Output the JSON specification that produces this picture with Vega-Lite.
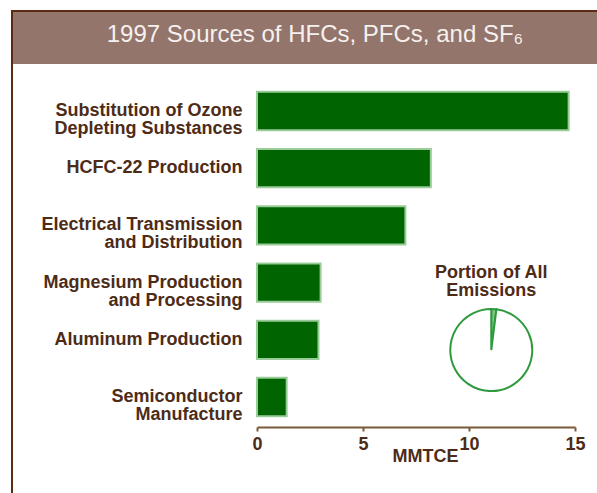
{
  "$schema": "https://vega.github.io/schema/vega-lite/v6.json",
  "padding": {"left": 11, "top": 10, "right": 0, "bottom": 0},
  "background": "white",
  "config": {
    "view": {"stroke": null},
    "font": "Liberation Sans"
  },
  "spacing": 0,
  "vconcat": [
    {
      "spacing": 0,
      "hconcat": [
        {
          "width": 2,
          "height": 54,
          "view": {"fill": "#5a2a12", "stroke": null},
          "data": {"values": [{"part": "frame"}]},
          "mark": {"type": "rect", "color": "#5a2a12"},
          "encoding": {}
        },
        {
          "spacing": 0,
          "vconcat": [
            {
              "width": 584,
              "height": 2,
              "view": {"fill": "#5a2a12", "stroke": null},
              "data": {"values": [{"part": "frame"}]},
              "mark": {"type": "rect", "color": "#5a2a12"},
              "encoding": {}
            },
            {
              "width": 584,
              "height": 52,
              "view": {"fill": "#93756b", "stroke": null},
              "data": {"values": [{"title": "1997 Sources of HFCs, PFCs, and SF₆"}]},
              "mark": {"type": "text", "fontSize": 24, "color": "#f6f1ee", "baseline": "middle", "align": "center", "dx": 10, "dy": -3},
              "encoding": {"text": {"field": "title"}}
            }
          ]
        }
      ]
    },
    {
      "spacing": 0,
      "hconcat": [
        {
          "width": 2,
          "height": 429,
          "view": {"fill": "#5a2a12", "stroke": null},
          "data": {"values": [{"part": "frame"}]},
          "mark": {"type": "rect", "color": "#5a2a12"},
          "encoding": {}
        },
        {
          "width": 318,
          "height": 363,
          "resolve": {"scale": {"y": "independent"}},
          "layer": [
            {
              "data": {"values": [
                {"source": "Substitution of Ozone\nDepleting Substances", "mmtce": 14.7},
                {"source": "HCFC-22 Production", "mmtce": 8.2},
                {"source": "Electrical Transmission\nand Distribution", "mmtce": 7.0},
                {"source": "Magnesium Production\nand Processing", "mmtce": 3.0},
                {"source": "Aluminum Production", "mmtce": 2.9},
                {"source": "Semiconductor\nManufacture", "mmtce": 1.4}
              ]},
              "mark": {"type": "bar", "color": "#006400", "stroke": "#99cc99", "strokeWidth": 2},
              "encoding": {
                "y": {
                  "field": "source", "type": "nominal", "sort": null,
                  "scale": {"paddingInner": 0.33, "paddingOuter": 0.338, "align": 0.72},
                  "axis": {
                    "title": null, "ticks": false, "domain": false,
                    "labelFontSize": 18, "labelFontWeight": "bold", "labelColor": "#4d2b17",
                    "labelPadding": 15, "labelExpr": "split(datum.label, '\\n')",
                    "labelLineHeight": 18, "labelLimit": 300,
                    "minExtent": 244, "maxExtent": 244
                  }
                },
                "x": {
                  "field": "mmtce", "type": "quantitative",
                  "scale": {"domain": [0, 15], "nice": false},
                  "axis": {
                    "values": [0, 5, 10, 15], "grid": false,
                    "title": "MMTCE", "titleFontSize": 18, "titleFontWeight": "bold",
                    "titleColor": "#4d2b17", "titlePadding": -6, "titleX": 168,
                    "labelFontSize": 18, "labelFontWeight": "bold", "labelColor": "#4d2b17",
                    "labelPadding": 4, "labelFlush": false,
                    "domainColor": "#7a5a3a", "domainWidth": 2,
                    "tickColor": "#7a5a3a", "tickSize": 4, "tickWidth": 2
                  }
                }
              }
            },
            {
              "data": {"values": [
                {"part": "HFCs, PFCs, and SF6", "share": 2},
                {"part": "All other emissions", "share": 98}
              ]},
              "mark": {"type": "arc", "radius": 41, "stroke": "#2e9a3e", "strokeWidth": 2},
              "encoding": {
                "theta": {"field": "share", "type": "quantitative", "stack": true},
                "order": {"field": "share", "sort": "ascending"},
                "color": {
                  "field": "part", "type": "nominal",
                  "scale": {"domain": ["HFCs, PFCs, and SF6", "All other emissions"], "range": ["#86c886", "#ffffff"]},
                  "legend": null
                },
                "x": {"datum": 11.05, "type": "quantitative", "scale": {"domain": [0, 15], "nice": false}},
                "y": {"datum": 0.212, "type": "quantitative", "scale": {"domain": [0, 1], "nice": false, "zero": false}, "axis": null}
              }
            },
            {
              "data": {"values": [{"label": "Portion of All\nEmissions"}]},
              "mark": {"type": "text", "fontSize": 18, "fontWeight": "bold", "color": "#4d2b17", "lineBreak": "\n", "lineHeight": 18, "align": "center", "baseline": "middle"},
              "encoding": {
                "text": {"field": "label"},
                "x": {"datum": 11.05, "type": "quantitative", "scale": {"domain": [0, 15], "nice": false}},
                "y": {"datum": 0.424, "type": "quantitative", "scale": {"domain": [0, 1], "nice": false, "zero": false}, "axis": null}
              }
            }
          ]
        }
      ]
    }
  ]
}
